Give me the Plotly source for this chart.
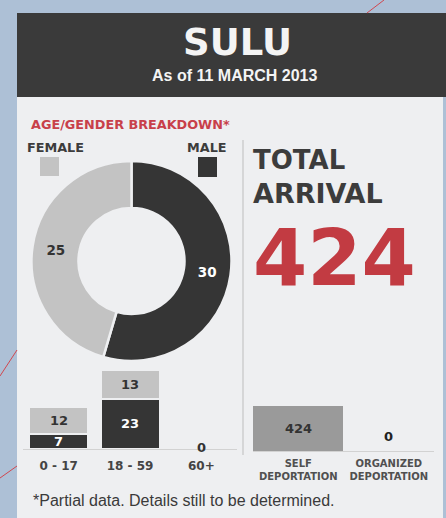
import plotly.graph_objects as go

W, H = 446, 518

# ---------------- data ----------------
genders = ["MALE", "FEMALE"]
gender_totals = [30, 25]
age_groups = ["0 - 17", "18 - 59", "60+"]
male_by_age = [7, 23, 0]
female_by_age = [12, 13, 0]
age_totals = [m + f for m, f in zip(male_by_age, female_by_age)]
dep_types = ["SELF<br>DEPORTATION", "ORGANIZED<br>DEPORTATION"]
dep_values = [424, 0]
total_arrival = 424

MALE_C = "#353535"
FEMALE_C = "#c3c3c3"
RED = "#c23b42"
DARK = "#3c3c3c"
PANEL = "#eeeff1"

def px(x):
    return x / W

def py(y):
    return 1 - y / H

fig = go.Figure()

# Donut
fig.add_trace(go.Pie(
    labels=genders, values=gender_totals, sort=False, direction="clockwise",
    rotation=0, hole=0.53,
    marker=dict(colors=[MALE_C, FEMALE_C], line=dict(color=PANEL, width=2.5)),
    texttemplate="<b>%{value}</b>", textposition="inside",
    insidetextorientation="horizontal",
    textfont=dict(family="DejaVu Sans", size=13.5, color=["#ffffff", "#333333"]),
    domain=dict(x=[px(28), px(235)], y=[py(361), py(161)]),
    showlegend=False, hoverinfo="label+value",
))

# Age stacked bars
fig.add_trace(go.Bar(
    x=age_groups, y=male_by_age,
    marker=dict(color=MALE_C, line=dict(color=PANEL, width=1.5)),
    xaxis="x", yaxis="y", showlegend=False, width=0.82, hoverinfo="x+y",
))
fig.add_trace(go.Bar(
    x=age_groups, y=female_by_age,
    marker=dict(color=FEMALE_C, line=dict(color=PANEL, width=1.5)),
    xaxis="x", yaxis="y", showlegend=False, width=0.82, hoverinfo="x+y",
))

# Deportation bars
fig.add_trace(go.Bar(
    x=dep_types, y=dep_values, marker=dict(color="#9a9a9a", line=dict(width=0)),
    xaxis="x2", yaxis="y2", showlegend=False, width=0.99, hoverinfo="x+y",
))

annotations = []
LBL = dict(family="DejaVu Sans", size=13)
# stacked bar labels
for cat, m, f in zip(age_groups, male_by_age, female_by_age):
    if m > 0:
        annotations.append(dict(x=cat, y=m / 2, xref="x", yref="y", text=f"<b>{m}</b>",
                                showarrow=False, yanchor="middle",
                                font=dict(**LBL, color="#ffffff")))
    if f > 0:
        annotations.append(dict(x=cat, y=m + f / 2, xref="x", yref="y", text=f"<b>{f}</b>",
                                showarrow=False, yanchor="middle",
                                font=dict(**LBL, color="#333333")))
    if m + f == 0:
        annotations.append(dict(x=cat, y=0, xref="x", yref="y", text="<b>0</b>",
                                showarrow=False, yanchor="middle", yshift=2,
                                font=dict(**LBL, color="#333333")))
for cat, v in zip(dep_types, dep_values):
    if v > 0:
        annotations.append(dict(x=cat, y=v / 2, xref="x2", yref="y2", text=f"<b>{v}</b>",
                                showarrow=False, yanchor="middle",
                                font=dict(**LBL, color="#333333")))
    else:
        annotations.append(dict(x=cat, y=v, xref="x2", yref="y2", text="<b>0</b>",
                                showarrow=False, yanchor="middle", yshift=15,
                                font=dict(**LBL, color="#222222")))

def txt(x, y, s, size, color, family="DejaVu Sans", xanchor="center", bold=True):
    annotations.append(dict(x=px(x), y=py(y), xref="paper", yref="paper",
                            text=(f"<b>{s}</b>" if bold else s), showarrow=False,
                            xanchor=xanchor, yanchor="middle",
                            font=dict(family=family, size=size, color=color)))

txt(237, 42, "SULU", 37, "#f4f4f4")
txt(235, 75, "As of 11 MARCH 2013", 16, "#f4f4f4", family="Liberation Sans")
txt(29, 125, "AGE/GENDER BREAKDOWN*", 12.8, "#c8404a", xanchor="left")
txt(25, 147, "FEMALE", 12.8, DARK, xanchor="left")
txt(229, 147, "MALE", 12.8, DARK, xanchor="right")
txt(251, 160, "TOTAL", 26, DARK, xanchor="left")
txt(251, 193, "ARRIVAL", 27, DARK, xanchor="left")
txt(251, 258, str(total_arrival), 78, RED, xanchor="left")
txt(31, 500, "*Partial data. Details still to be determined.", 16, "#3a3a3a",
    family="Liberation Sans", xanchor="left", bold=False)

shapes = [
    # panel
    dict(type="rect", xref="paper", yref="paper", x0=px(17), x1=px(443), y0=py(518), y1=py(97),
         fillcolor=PANEL, line=dict(width=0), layer="below"),
    # header
    dict(type="rect", xref="paper", yref="paper", x0=px(17), x1=px(446), y0=py(97), y1=py(13),
         fillcolor="#3a3a3a", line=dict(width=0), layer="below"),
    # legend squares
    dict(type="rect", xref="paper", yref="paper", x0=px(40), x1=px(59), y0=py(176), y1=py(157),
         fillcolor=FEMALE_C, line=dict(width=0)),
    dict(type="rect", xref="paper", yref="paper", x0=px(198), x1=px(217), y0=py(177), y1=py(157),
         fillcolor=MALE_C, line=dict(width=0)),
    # separator
    dict(type="line", xref="paper", yref="paper", x0=px(243), x1=px(243), y0=py(455), y1=py(140),
         line=dict(color="#bdbdbd", width=1)),
    # decorative red lines
    dict(type="line", xref="paper", yref="paper", x0=px(367), x1=px(384), y0=py(13), y1=py(0),
         line=dict(color="#d0474f", width=1), layer="below"),
    dict(type="line", xref="paper", yref="paper", x0=px(0), x1=px(17), y0=py(376), y1=py(350),
         line=dict(color="#d0474f", width=1), layer="below"),
    dict(type="line", xref="paper", yref="paper", x0=px(0), x1=px(17), y0=py(478), y1=py(466),
         line=dict(color="#d0474f", width=1), layer="below"),
]

fig.update_layout(
    width=W, height=H, margin=dict(l=0, r=0, t=0, b=0),
    paper_bgcolor="#adc0d6", plot_bgcolor="rgba(0,0,0,0)",
    barmode="stack",
    xaxis=dict(domain=[px(23), px(237)], range=[-0.5, 2.5], showgrid=False, zeroline=False,
               showline=True, linecolor="#d2d2d2", linewidth=1, ticks="",
               tickfont=dict(family="DejaVu Sans", size=12, color="#444444", weight="bold"),
               ticklabelstandoff=6, fixedrange=True),
    yaxis=dict(domain=[py(449), py(362)], range=[0, 40], visible=False, fixedrange=True),
    xaxis2=dict(domain=[px(253), px(434)], range=[-0.5, 1.5], showgrid=False, zeroline=False,
                showline=True, linecolor="#d2d2d2", linewidth=1, ticks="", anchor="y2",
                tickfont=dict(family="DejaVu Sans", size=10, color="#505050", weight="bold"),
                ticklabelstandoff=3, fixedrange=True),
    yaxis2=dict(domain=[py(451), py(380)], range=[0, 669], visible=False, anchor="x2",
                fixedrange=True),
    annotations=annotations, shapes=shapes,
)

fig.write_html("out.html")
